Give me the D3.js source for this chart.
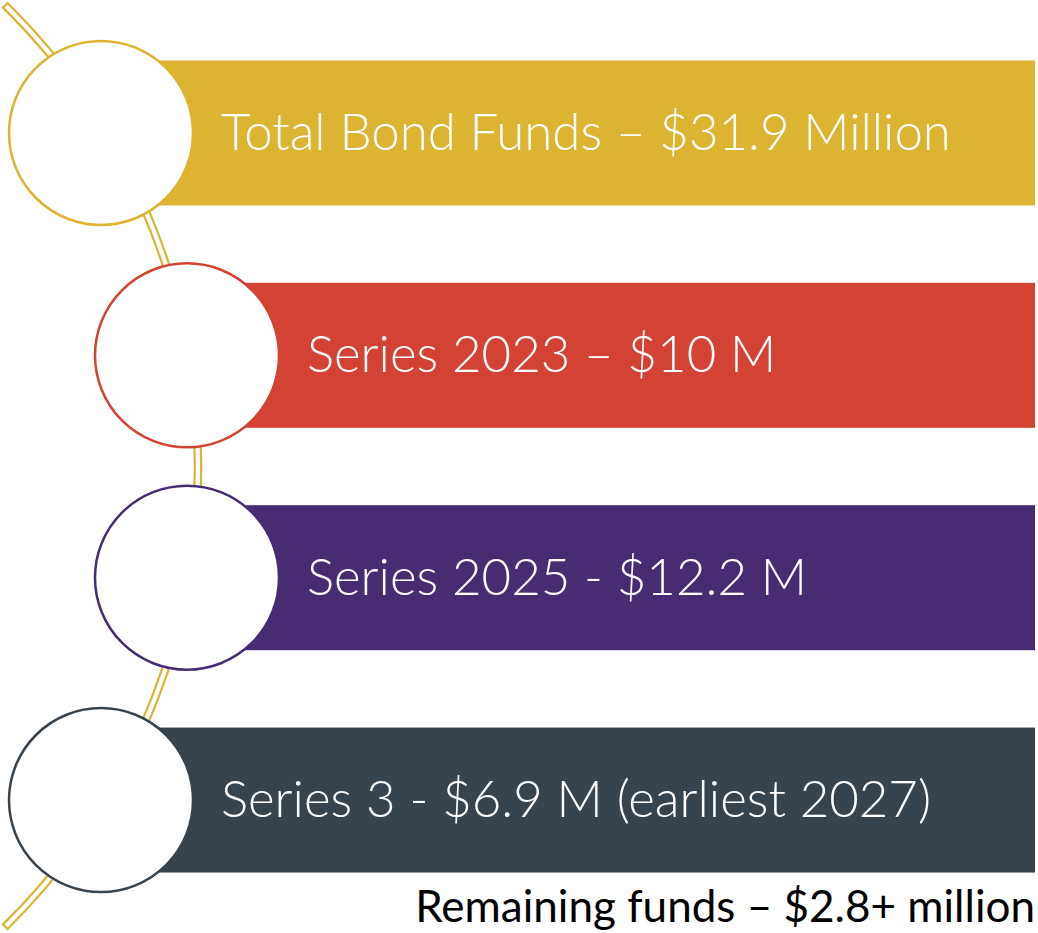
<!DOCTYPE html>
<html>
<head>
    <script src="https://d3js.org/d3.v7.min.js"></script>
    <style>
        body { margin: 0; background: #fff; }
        .label {
            font-family: Lato, "Open Sans", sans-serif;
            font-weight: 300;
            fill: #fff;
        }
        .note {
            font-family: Lato, "Open Sans", sans-serif;
            font-weight: 400;
            fill: #000;
        }
    </style>
</head>
<body>
<svg width="1038" height="933"></svg>
<script>
    // Chart data
    const labels = [
        "Total Bond Funds \u2013 $31.9 Million",
        "Series 2023 \u2013 $10 M",
        "Series 2025 - $12.2 M",
        "Series 3 - $6.9 M (earliest 2027)"
    ];
    const colors = ["#DDB332", "#D34233", "#482C73", "#37434D"];
    const indent = [0, 1, 1, 0];   // step in/out along the curve
    const footnote = "Remaining funds \u2013 $2.8+ million";

    const svg = d3.select("svg");

    // Layout scales
    const y = d3.scaleBand().domain(d3.range(labels.length)).range([44, 889]).paddingInner(0.2);
    const xIndent = d3.scaleLinear().domain([0, 1]).range([101, 187]);
    const r = 92;
    const barH = 145;

    // Curved double line (arc of a big circle, centre far to the left)
    const R = 647, cx0 = -449, cy0 = 466;
    const band = d3.arc()
        .innerRadius(R - 3.2)
        .outerRadius(R + 3.2)
        .startAngle(44.6 * Math.PI / 180)
        .endAngle(135.4 * Math.PI / 180);
    svg.append("path")
        .attr("transform", `translate(${cx0},${cy0})`)
        .attr("d", band())
        .attr("fill", "#fff")
        .attr("stroke", colors[0])
        .attr("stroke-width", 2.2);

    const rows = svg.selectAll(".row")
        .data(labels)
        .enter().append("g")
        .attr("class", "row");

    const cy = i => y(i) + y.bandwidth() / 2;

    // Bars
    rows.append("rect")
        .attr("x", (d, i) => xIndent(indent[i]))
        .attr("y", (d, i) => cy(i) - barH / 2)
        .attr("width", (d, i) => 1035 - xIndent(indent[i]))
        .attr("height", barH)
        .attr("fill", (d, i) => colors[i]);

    // Circles
    rows.append("circle")
        .attr("cx", (d, i) => xIndent(indent[i]))
        .attr("cy", (d, i) => cy(i))
        .attr("r", r)
        .attr("fill", "#fff")
        .attr("stroke", (d, i) => colors[i])
        .attr("stroke-width", 2.5);

    // Labels
    const text = rows.append("text")
        .attr("class", "label")
        .attr("x", (d, i) => xIndent(indent[i]) + 120)
        .attr("y", (d, i) => cy(i) + 17)
        .text(d => d);

    // fit the common font size to the first label's width
    text.attr("font-size", 50);
    const w0 = text.nodes()[0].getComputedTextLength();
    text.attr("font-size", 50 * 730 / w0);

    // Footnote
    const note = svg.append("text")
        .attr("class", "note")
        .attr("x", 1035)
        .attr("y", 922)
        .attr("text-anchor", "end")
        .attr("font-size", 40)
        .text(footnote);
    const wn = note.node().getComputedTextLength();
    note.attr("font-size", 40 * 620 / wn);
</script>
</body>
</html>
